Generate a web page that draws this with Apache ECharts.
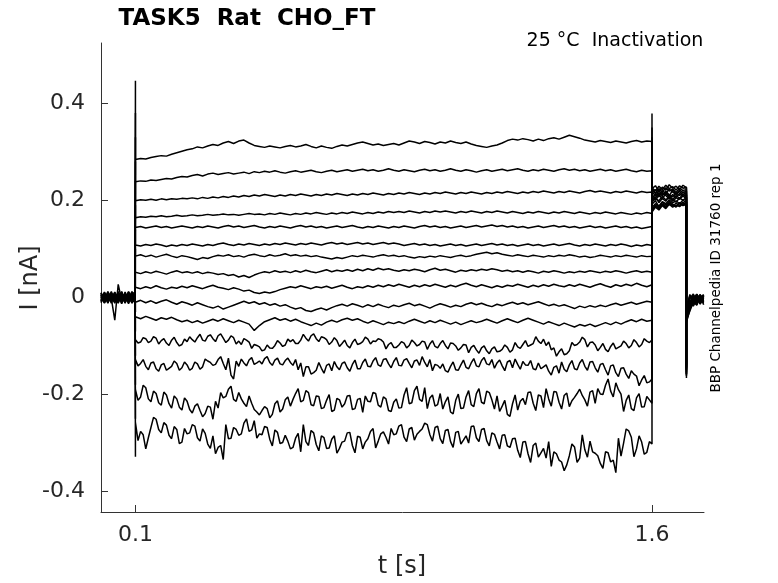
<!DOCTYPE html>
<html><head><meta charset="utf-8">
<script src="https://cdn.jsdelivr.net/npm/echarts@6/dist/echarts.min.js"></script>
<style>html,body{margin:0;padding:0;background:#fff}#c{width:778px;height:583px}</style>
</head><body><div id="c"></div><script>
// ---- time grids (s) ----
const preTimes = [0, 0.01, 0.02, 0.03, 0.04, 0.05, 0.06, 0.07, 0.08, 0.09, 0.099];
const pulseStart = 0.1, pulseStep = 0.015, pulseCount = 101;
const postTimes = [1.6, 1.61, 1.62, 1.63, 1.64, 1.65, 1.66, 1.67, 1.68, 1.69, 1.70];
const tailTimes = [1.70, 1.71, 1.72, 1.73, 1.74, 1.75];

// ---- tick labels ----
const xTicks = [0.1, 1.6];
const yTicks = [-0.4, -0.2, 0, 0.2, 0.4];

// ---- capacitive spikes at the steps (nA) ----
const onSpike = [0.446, 0.38, 0.33, 0.28, 0.24, 0.19, 0.14, 0.10, 0.05, -0.03, -0.07, -0.12, -0.18, -0.25, -0.328];
const offSpike = [0.19, 0.21, 0.22, 0.225, 0.23, 0.235, 0.24, 0.25, 0.26, 0.27, 0.29, 0.31, 0.33, 0.35, 0.379];
const tailSpike = [-0.166, -0.150, -0.158, -0.142, -0.160, -0.147, -0.155, -0.139, -0.162, -0.145, -0.153, -0.136, -0.158, -0.149, -0.144];

// ---- holding current before the prepulse (nA) ----
const preCurrents = [
[0.003,-0.005,0.008,-0.002,-0.047,0.027,-0.006,0.004,-0.009,0.006,-0.003],
[-0.006,0.007,-0.003,0.010,-0.008,0.002,0.009,-0.005,0.006,-0.010,0.004],
[0.008,-0.009,0.005,-0.004,0.011,-0.007,0.003,-0.011,0.007,-0.002,0.009],
[-0.002,0.010,-0.008,0.006,-0.005,0.009,-0.012,0.005,-0.004,0.011,-0.007],
[0.005,-0.011,0.009,-0.006,0.004,-0.010,0.007,-0.003,0.010,-0.008,0.002],
[-0.009,0.004,-0.012,0.008,-0.001,0.006,-0.009,0.011,-0.006,0.003,-0.011],
[0.010,-0.003,0.006,-0.010,0.009,-0.004,0.012,-0.008,0.002,-0.012,0.006],
[-0.004,0.008,-0.010,0.003,-0.012,0.010,-0.002,0.007,-0.011,0.008,-0.005],
[0.006,-0.008,0.011,-0.009,0.007,-0.001,0.005,-0.012,0.009,-0.006,0.010],
[-0.011,0.002,-0.006,0.012,-0.010,0.005,-0.007,0.009,-0.003,0.012,-0.009],
[0.001,-0.012,0.004,-0.007,0.008,-0.011,0.010,-0.004,0.011,-0.009,0.003],
[0.009,-0.006,0.012,-0.001,-0.009,0.007,-0.013,0.006,-0.007,0.004,-0.008],
[-0.007,0.011,-0.004,0.009,-0.006,0.012,-0.005,0.003,-0.013,0.007,0.011],
[0.004,-0.010,0.007,-0.012,0.010,-0.008,0.008,-0.010,0.004,-0.011,-0.004],
[-0.008,0.006,-0.011,0.005,0.002,-0.012,0.011,-0.006,0.012,-0.004,0.008]
];

// ---- prepulse currents, one sweep each (nA) ----
const s1 = [0.284,0.286,0.285,0.288,0.290,0.292,0.291,0.295,0.298,0.301,0.304,
0.306,0.310,0.308,0.312,0.315,0.313,0.318,0.321,0.317,0.322,
0.324,0.318,0.313,0.311,0.309,0.312,0.310,0.308,0.311,0.313,
0.310,0.312,0.315,0.311,0.308,0.312,0.309,0.307,0.311,0.314,
0.312,0.315,0.318,0.320,0.317,0.314,0.316,0.313,0.315,0.317,
0.314,0.318,0.322,0.320,0.317,0.321,0.319,0.316,0.320,0.318,
0.322,0.319,0.317,0.320,0.316,0.313,0.311,0.309,0.312,0.314,
0.318,0.323,0.326,0.324,0.327,0.325,0.322,0.326,0.323,0.327,
0.329,0.326,0.330,0.334,0.331,0.328,0.324,0.322,0.320,0.323,
0.321,0.319,0.322,0.320,0.318,0.321,0.323,0.320,0.322,0.321];
const s2 = [0.238,0.240,0.239,0.242,0.241,0.243,0.245,0.244,0.247,0.249,0.248,
0.251,0.253,0.250,0.254,0.256,0.253,0.255,0.257,0.254,0.256,
0.258,0.255,0.259,0.257,0.260,0.258,0.261,0.258,0.256,0.259,
0.261,0.258,0.260,0.262,0.259,0.257,0.260,0.262,0.259,0.261,
0.263,0.260,0.262,0.264,0.261,0.263,0.260,0.262,0.265,0.262,
0.260,0.263,0.261,0.259,0.262,0.264,0.261,0.263,0.260,0.262,
0.265,0.262,0.260,0.263,0.261,0.258,0.261,0.263,0.260,0.262,
0.264,0.261,0.263,0.265,0.262,0.260,0.263,0.261,0.264,0.262,
0.260,0.263,0.265,0.262,0.264,0.261,0.263,0.260,0.262,0.264,
0.261,0.263,0.260,0.262,0.264,0.261,0.259,0.262,0.260,0.261];
const s3 = [0.199,0.201,0.200,0.202,0.200,0.203,0.201,0.203,0.202,0.204,0.203,
0.205,0.203,0.206,0.204,0.207,0.205,0.208,0.206,0.209,0.207,
0.210,0.208,0.211,0.209,0.212,0.210,0.208,0.211,0.209,0.212,
0.210,0.213,0.211,0.209,0.212,0.210,0.213,0.211,0.214,0.212,
0.210,0.213,0.211,0.214,0.212,0.215,0.213,0.211,0.214,0.212,
0.215,0.213,0.216,0.214,0.212,0.215,0.213,0.216,0.214,0.217,
0.215,0.213,0.216,0.214,0.217,0.215,0.213,0.216,0.214,0.217,
0.215,0.218,0.216,0.214,0.217,0.215,0.218,0.216,0.219,0.217,
0.215,0.218,0.216,0.219,0.217,0.215,0.218,0.220,0.217,0.219,
0.217,0.215,0.218,0.216,0.219,0.217,0.215,0.218,0.216,0.217];
const s4 = [0.164,0.166,0.165,0.167,0.166,0.168,0.166,0.167,0.169,0.167,0.168,
0.170,0.168,0.169,0.171,0.169,0.170,0.172,0.170,0.171,0.169,
0.171,0.173,0.171,0.172,0.170,0.173,0.171,0.174,0.172,0.170,
0.173,0.171,0.174,0.172,0.175,0.173,0.171,0.174,0.172,0.175,
0.173,0.176,0.174,0.172,0.175,0.173,0.176,0.174,0.177,0.175,
0.177,0.175,0.178,0.176,0.174,0.177,0.175,0.178,0.176,0.178,
0.176,0.174,0.177,0.175,0.178,0.176,0.174,0.177,0.175,0.178,
0.176,0.174,0.177,0.175,0.173,0.176,0.174,0.177,0.175,0.173,
0.176,0.174,0.177,0.175,0.173,0.176,0.174,0.172,0.175,0.173,
0.176,0.174,0.172,0.175,0.173,0.171,0.174,0.172,0.175,0.173];
const s5 = [0.144,0.146,0.143,0.145,0.147,0.144,0.146,0.143,0.145,0.147,0.145,
0.143,0.146,0.144,0.147,0.145,0.143,0.146,0.148,0.145,0.147,
0.144,0.146,0.148,0.145,0.143,0.146,0.144,0.147,0.145,0.143,
0.146,0.148,0.145,0.147,0.144,0.146,0.143,0.145,0.147,0.144,
0.146,0.148,0.145,0.143,0.146,0.144,0.147,0.145,0.143,0.146,
0.144,0.147,0.145,0.143,0.146,0.148,0.145,0.147,0.144,0.146,
0.143,0.145,0.147,0.144,0.146,0.148,0.145,0.147,0.149,0.146,
0.148,0.145,0.147,0.144,0.146,0.143,0.145,0.147,0.144,0.146,
0.148,0.145,0.147,0.144,0.146,0.143,0.145,0.147,0.144,0.146,
0.143,0.145,0.147,0.144,0.146,0.143,0.145,0.142,0.144,0.146];
const s6 = [0.108,0.106,0.109,0.107,0.110,0.108,0.105,0.108,0.106,0.109,0.107,
0.110,0.108,0.106,0.109,0.107,0.110,0.112,0.109,0.107,0.110,
0.108,0.111,0.109,0.107,0.110,0.108,0.111,0.109,0.112,0.110,
0.108,0.111,0.109,0.112,0.110,0.108,0.111,0.113,0.110,0.112,
0.109,0.111,0.113,0.110,0.112,0.109,0.111,0.113,0.110,0.112,
0.110,0.107,0.109,0.111,0.108,0.110,0.107,0.109,0.106,0.108,
0.110,0.107,0.109,0.106,0.108,0.110,0.107,0.109,0.111,0.108,
0.110,0.107,0.109,0.106,0.108,0.110,0.107,0.109,0.106,0.108,
0.110,0.107,0.109,0.111,0.108,0.106,0.109,0.107,0.110,0.108,
0.106,0.109,0.107,0.110,0.108,0.105,0.108,0.106,0.109,0.107];
const s7 = [0.085,0.088,0.084,0.087,0.083,0.086,0.089,0.085,0.082,0.086,0.084,
0.081,0.078,0.082,0.080,0.084,0.087,0.085,0.088,0.084,0.086,
0.083,0.087,0.089,0.086,0.084,0.088,0.085,0.087,0.090,0.086,
0.088,0.085,0.087,0.084,0.086,0.083,0.081,0.079,0.082,0.080,
0.083,0.086,0.084,0.087,0.085,0.083,0.086,0.088,0.085,0.087,
0.084,0.086,0.083,0.081,0.084,0.082,0.085,0.083,0.086,0.084,
0.082,0.085,0.087,0.084,0.086,0.089,0.091,0.093,0.090,0.092,
0.089,0.087,0.085,0.088,0.086,0.084,0.087,0.085,0.083,0.086,
0.084,0.087,0.085,0.088,0.086,0.083,0.085,0.082,0.084,0.087,
0.085,0.083,0.086,0.084,0.087,0.085,0.083,0.086,0.084,0.085];
const s8 = [0.052,0.049,0.053,0.050,0.054,0.051,0.048,0.052,0.055,0.051,0.053,
0.050,0.053,0.049,0.052,0.050,0.047,0.049,0.045,0.047,0.042,
0.045,0.041,0.046,0.050,0.053,0.051,0.055,0.052,0.054,0.051,
0.055,0.052,0.056,0.053,0.051,0.054,0.057,0.053,0.056,0.054,
0.057,0.054,0.058,0.055,0.059,0.056,0.060,0.057,0.059,0.056,
0.054,0.057,0.055,0.058,0.056,0.053,0.057,0.060,0.056,0.058,
0.055,0.052,0.056,0.054,0.057,0.055,0.058,0.056,0.059,0.057,
0.054,0.056,0.053,0.055,0.052,0.055,0.053,0.050,0.054,0.052,
0.055,0.053,0.050,0.053,0.051,0.054,0.052,0.055,0.053,0.051,
0.054,0.052,0.055,0.053,0.050,0.053,0.055,0.052,0.054,0.052];
const s9 = [0.021,0.018,0.022,0.019,0.024,0.020,0.017,0.021,0.019,0.023,0.020,
0.024,0.021,0.018,0.022,0.025,0.021,0.019,0.016,0.020,0.017,
0.013,0.015,0.010,0.008,0.011,0.009,0.012,0.016,0.019,0.022,
0.020,0.024,0.021,0.018,0.022,0.020,0.023,0.019,0.022,0.025,
0.021,0.018,0.022,0.020,0.024,0.021,0.025,0.022,0.026,0.023,
0.027,0.024,0.021,0.025,0.022,0.026,0.023,0.027,0.024,0.021,
0.025,0.022,0.026,0.029,0.025,0.022,0.026,0.023,0.020,0.024,
0.021,0.025,0.023,0.027,0.024,0.021,0.025,0.022,0.026,0.023,
0.027,0.024,0.022,0.026,0.023,0.027,0.024,0.021,0.025,0.028,
0.024,0.021,0.026,0.023,0.027,0.024,0.029,0.025,0.022,0.026];
const s10 = [-0.010,-0.006,-0.011,-0.007,-0.012,-0.008,-0.005,-0.010,-0.014,-0.009,-0.012,
-0.016,-0.011,-0.015,-0.019,-0.022,-0.018,-0.024,-0.020,-0.016,-0.012,
-0.008,-0.012,-0.009,-0.014,-0.011,-0.016,-0.013,-0.018,-0.015,-0.020,
-0.024,-0.021,-0.027,-0.029,-0.025,-0.022,-0.026,-0.021,-0.017,-0.014,
-0.018,-0.013,-0.016,-0.020,-0.015,-0.019,-0.014,-0.018,-0.021,-0.016,
-0.019,-0.015,-0.012,-0.017,-0.014,-0.018,-0.022,-0.017,-0.013,-0.016,
-0.020,-0.016,-0.019,-0.014,-0.011,-0.015,-0.012,-0.016,-0.019,-0.014,
-0.017,-0.013,-0.010,-0.014,-0.011,-0.015,-0.012,-0.009,-0.013,-0.017,
-0.014,-0.018,-0.015,-0.019,-0.023,-0.018,-0.021,-0.017,-0.020,-0.016,
-0.019,-0.015,-0.012,-0.016,-0.013,-0.010,-0.014,-0.011,-0.008,-0.010];
const s11 = [-0.040,-0.044,-0.039,-0.043,-0.047,-0.042,-0.045,-0.041,-0.046,-0.050,-0.047,
-0.052,-0.048,-0.053,-0.049,-0.045,-0.049,-0.044,-0.048,-0.052,-0.047,
-0.051,-0.055,-0.068,-0.058,-0.050,-0.046,-0.042,-0.047,-0.044,-0.049,
-0.045,-0.050,-0.054,-0.058,-0.053,-0.057,-0.051,-0.047,-0.051,-0.046,
-0.043,-0.047,-0.044,-0.049,-0.053,-0.048,-0.052,-0.056,-0.051,-0.054,
-0.050,-0.054,-0.049,-0.045,-0.049,-0.053,-0.048,-0.052,-0.047,-0.051,
-0.055,-0.051,-0.056,-0.052,-0.048,-0.052,-0.049,-0.045,-0.049,-0.053,
-0.048,-0.044,-0.048,-0.052,-0.047,-0.043,-0.047,-0.051,-0.055,-0.050,
-0.054,-0.058,-0.053,-0.057,-0.061,-0.056,-0.059,-0.055,-0.060,-0.056,
-0.052,-0.056,-0.051,-0.055,-0.050,-0.046,-0.050,-0.045,-0.049,-0.047];
const s12 = [-0.087,-0.092,-0.085,-0.090,-0.084,-0.089,-0.094,-0.088,-0.093,-0.097,-0.091,
-0.087,-0.083,-0.088,-0.080,-0.085,-0.079,-0.084,-0.088,-0.083,-0.090,
-0.085,-0.092,-0.097,-0.102,-0.108,-0.104,-0.099,-0.094,-0.098,-0.091,
-0.095,-0.088,-0.084,-0.079,-0.085,-0.081,-0.087,-0.092,-0.089,-0.095,
-0.099,-0.093,-0.097,-0.091,-0.086,-0.090,-0.085,-0.092,-0.097,-0.103,
-0.098,-0.094,-0.099,-0.093,-0.097,-0.092,-0.096,-0.101,-0.095,-0.099,
-0.094,-0.100,-0.104,-0.098,-0.103,-0.108,-0.104,-0.110,-0.106,-0.112,
-0.107,-0.103,-0.108,-0.102,-0.097,-0.101,-0.095,-0.090,-0.086,-0.092,
-0.104,-0.112,-0.118,-0.110,-0.099,-0.092,-0.087,-0.093,-0.098,-0.103,
-0.107,-0.101,-0.106,-0.100,-0.095,-0.099,-0.093,-0.097,-0.090,-0.088];
const s13 = [-0.128,-0.136,-0.142,-0.135,-0.147,-0.139,-0.150,-0.142,-0.136,-0.145,-0.139,
-0.146,-0.137,-0.143,-0.131,-0.140,-0.128,-0.136,-0.125,-0.168,-0.142,
-0.135,-0.129,-0.138,-0.131,-0.126,-0.134,-0.129,-0.137,-0.130,-0.134,
-0.128,-0.135,-0.143,-0.158,-0.150,-0.146,-0.140,-0.151,-0.143,-0.136,
-0.145,-0.138,-0.147,-0.134,-0.142,-0.131,-0.139,-0.128,-0.137,-0.132,
-0.140,-0.129,-0.136,-0.131,-0.140,-0.134,-0.128,-0.138,-0.146,-0.151,
-0.142,-0.149,-0.139,-0.144,-0.135,-0.141,-0.130,-0.137,-0.128,-0.135,
-0.141,-0.133,-0.145,-0.138,-0.132,-0.140,-0.147,-0.135,-0.143,-0.152,
-0.144,-0.156,-0.148,-0.139,-0.147,-0.135,-0.142,-0.133,-0.145,-0.138,
-0.149,-0.141,-0.155,-0.146,-0.158,-0.151,-0.162,-0.170,-0.176,-0.168];
const s14 = [-0.190,-0.205,-0.186,-0.215,-0.198,-0.222,-0.201,-0.228,-0.209,-0.232,-0.214,
-0.238,-0.219,-0.246,-0.224,-0.251,-0.228,-0.207,-0.189,-0.210,-0.196,
-0.218,-0.203,-0.231,-0.242,-0.225,-0.248,-0.219,-0.236,-0.211,-0.224,
-0.198,-0.215,-0.192,-0.221,-0.203,-0.229,-0.212,-0.235,-0.208,-0.226,
-0.203,-0.231,-0.210,-0.237,-0.214,-0.196,-0.222,-0.205,-0.233,-0.216,
-0.228,-0.201,-0.219,-0.192,-0.210,-0.186,-0.207,-0.224,-0.198,-0.215,
-0.236,-0.212,-0.229,-0.205,-0.221,-0.198,-0.216,-0.193,-0.211,-0.203,
-0.224,-0.241,-0.219,-0.232,-0.208,-0.196,-0.218,-0.201,-0.227,-0.209,
-0.194,-0.216,-0.202,-0.225,-0.206,-0.189,-0.211,-0.195,-0.218,-0.199,
-0.181,-0.193,-0.176,-0.199,-0.212,-0.229,-0.207,-0.226,-0.204,-0.218];
const s15 = [-0.258,-0.276,-0.312,-0.268,-0.251,-0.279,-0.263,-0.291,-0.272,-0.298,-0.281,
-0.262,-0.289,-0.271,-0.302,-0.285,-0.309,-0.334,-0.291,-0.268,-0.284,
-0.259,-0.276,-0.254,-0.281,-0.266,-0.292,-0.273,-0.301,-0.284,-0.312,
-0.290,-0.318,-0.297,-0.274,-0.303,-0.285,-0.311,-0.292,-0.321,-0.298,
-0.279,-0.305,-0.286,-0.312,-0.291,-0.270,-0.296,-0.277,-0.302,-0.283,
-0.265,-0.288,-0.271,-0.294,-0.276,-0.259,-0.283,-0.268,-0.291,-0.274,
-0.297,-0.278,-0.302,-0.285,-0.266,-0.289,-0.272,-0.295,-0.279,-0.298,
-0.284,-0.306,-0.291,-0.315,-0.298,-0.322,-0.305,-0.329,-0.311,-0.297,
-0.318,-0.335,-0.357,-0.326,-0.308,-0.331,-0.314,-0.296,-0.321,-0.342,
-0.318,-0.339,-0.361,-0.327,-0.271,-0.288,-0.312,-0.298,-0.319,-0.302];
const pulseSweeps = [s1, s2, s3, s4, s5, s6, s7, s8, s9, s10, s11, s12, s13, s14, s15];

// ---- extra half-step samples for the noisiest sweeps (nA) ----
const s12mid = [-0.094,-0.083,-0.093,-0.081,-0.096,-0.085,-0.099,-0.082,-0.100,-0.086,
-0.081,-0.092,-0.076,-0.090,-0.077,-0.091,-0.075,-0.093,-0.079,-0.096,
-0.097,-0.088,-0.105,-0.099,-0.110,-0.098,-0.105,-0.089,-0.101,-0.086,
-0.087,-0.095,-0.076,-0.090,-0.075,-0.091,-0.083,-0.097,-0.083,-0.101,
-0.088,-0.104,-0.086,-0.095,-0.082,-0.096,-0.091,-0.087,-0.106,-0.093,
-0.103,-0.091,-0.104,-0.088,-0.100,-0.090,-0.107,-0.089,-0.104,-0.089,
-0.106,-0.095,-0.109,-0.097,-0.114,-0.099,-0.115,-0.100,-0.116,-0.102,
-0.111,-0.098,-0.113,-0.093,-0.105,-0.089,-0.098,-0.081,-0.095,-0.099,
-0.108,-0.121,-0.106,-0.116,-0.093,-0.097,-0.082,-0.102,-0.092,-0.110,
-0.095,-0.112,-0.094,-0.103,-0.090,-0.104,-0.087,-0.102,-0.085,-0.093];
const s13mid = [-0.141,-0.128,-0.149,-0.133,-0.152,-0.136,-0.146,-0.131,-0.150,-0.133,
-0.150,-0.133,-0.148,-0.127,-0.134,-0.138,-0.122,-0.149,-0.160,-0.131,
-0.127,-0.141,-0.124,-0.135,-0.137,-0.122,-0.140,-0.125,-0.139,-0.125,
-0.140,-0.149,-0.163,-0.143,-0.155,-0.134,-0.156,-0.137,-0.132,-0.149,
-0.133,-0.152,-0.129,-0.147,-0.127,-0.143,-0.124,-0.142,-0.126,-0.145,
-0.124,-0.141,-0.126,-0.145,-0.129,-0.122,-0.143,-0.151,-0.140,-0.137,
-0.154,-0.133,-0.150,-0.129,-0.147,-0.126,-0.143,-0.124,-0.139,-0.146,
-0.129,-0.151,-0.130,-0.127,-0.148,-0.139,-0.130,-0.149,-0.147,-0.139,
-0.160,-0.141,-0.133,-0.153,-0.130,-0.149,-0.128,-0.150,-0.132,-0.154,
-0.136,-0.160,-0.139,-0.163,-0.145,-0.167,-0.158,-0.182,-0.161,-0.174];
const s14mid = [-0.212,-0.181,-0.209,-0.193,-0.217,-0.195,-0.219,-0.203,-0.226,-0.207,
-0.231,-0.224,-0.233,-0.239,-0.226,-0.214,-0.196,-0.204,-0.183,-0.214,
-0.209,-0.225,-0.218,-0.236,-0.233,-0.229,-0.241,-0.213,-0.230,-0.205,
-0.210,-0.188,-0.212,-0.196,-0.223,-0.204,-0.227,-0.200,-0.232,-0.211,
-0.219,-0.202,-0.229,-0.208,-0.203,-0.215,-0.198,-0.226,-0.209,-0.235,
-0.209,-0.227,-0.186,-0.217,-0.183,-0.214,-0.229,-0.201,-0.221,-0.230,
-0.205,-0.240,-0.199,-0.228,-0.192,-0.225,-0.188,-0.219,-0.196,-0.230,
-0.235,-0.212,-0.245,-0.201,-0.214,-0.221,-0.195,-0.233,-0.203,-0.188,
-0.224,-0.195,-0.230,-0.197,-0.213,-0.198,-0.202,-0.224,-0.192,-0.188,
-0.200,-0.168,-0.205,-0.190,-0.235,-0.201,-0.233,-0.198,-0.225,-0.211];
const s15mid = [-0.295,-0.283,-0.289,-0.247,-0.272,-0.258,-0.284,-0.266,-0.301,-0.270,
-0.279,-0.265,-0.296,-0.280,-0.311,-0.322,-0.305,-0.262,-0.290,-0.272,
-0.281,-0.250,-0.273,-0.290,-0.283,-0.268,-0.306,-0.278,-0.299,-0.296,
-0.309,-0.280,-0.262,-0.305,-0.279,-0.316,-0.289,-0.310,-0.285,-0.311,
-0.296,-0.278,-0.320,-0.288,-0.298,-0.276,-0.310,-0.281,-0.288,-0.270,
-0.281,-0.262,-0.297,-0.268,-0.282,-0.271,-0.262,-0.296,-0.265,-0.301,
-0.272,-0.309,-0.276,-0.294,-0.300,-0.265,-0.297,-0.270,-0.306,-0.282,
-0.312,-0.283,-0.309,-0.290,-0.330,-0.297,-0.340,-0.300,-0.320,-0.331,
-0.348,-0.322,-0.339,-0.345,-0.302,-0.340,-0.283,-0.329,-0.318,-0.326,
-0.352,-0.320,-0.335,-0.290,-0.300,-0.275,-0.328,-0.285,-0.323,-0.297];
const midSweeps = { 11: s12mid, 12: s13mid, 13: s14mid, 14: s15mid };

// ---- test pulse currents (nA) ----
const postCurrents = [
[0.196,0.204,0.199,0.208,0.201,0.206,0.198,0.205,0.202,0.209,0.203],
[0.212,0.205,0.216,0.209,0.219,0.211,0.207,0.215,0.210,0.217,0.212],
[0.185,0.193,0.188,0.196,0.190,0.198,0.192,0.187,0.195,0.191,0.197],
[0.221,0.214,0.224,0.217,0.226,0.219,0.223,0.216,0.225,0.220,0.222],
[0.178,0.189,0.182,0.191,0.185,0.193,0.188,0.194,0.189,0.196,0.191],
[0.204,0.213,0.207,0.216,0.210,0.203,0.212,0.206,0.214,0.208,0.211],
[0.226,0.219,0.229,0.222,0.231,0.224,0.228,0.221,0.230,0.225,0.227],
[0.192,0.199,0.187,0.197,0.193,0.201,0.195,0.199,0.193,0.200,0.196],
[0.215,0.222,0.211,0.220,0.214,0.223,0.217,0.212,0.221,0.216,0.219],
[0.181,0.190,0.184,0.193,0.187,0.195,0.190,0.186,0.194,0.189,0.192],
[0.208,0.200,0.211,0.203,0.214,0.206,0.201,0.210,0.204,0.213,0.207],
[0.224,0.230,0.218,0.227,0.221,0.232,0.225,0.229,0.222,0.231,0.226],
[0.176,0.186,0.180,0.189,0.183,0.192,0.186,0.190,0.187,0.193,0.189],
[0.218,0.209,0.220,0.212,0.217,0.209,0.221,0.213,0.218,0.211,0.216],
[0.199,0.207,0.195,0.204,0.198,0.210,0.202,0.196,0.205,0.200,0.206]
];

// ---- return to holding (nA) ----
const tailCurrents = [
[-0.035,-0.012,0.002,-0.008,0.005,-0.004],
[-0.048,-0.020,-0.006,0.004,-0.010,0.003],
[-0.028,0.004,-0.014,0.006,-0.003,-0.012],
[-0.052,-0.025,-0.008,-0.016,0.002,-0.007],
[-0.020,-0.002,0.007,-0.011,-0.001,0.006],
[-0.041,-0.015,-0.004,0.003,-0.013,-0.002],
[-0.033,-0.009,0.005,-0.006,0.004,-0.015],
[-0.045,-0.022,-0.012,0.001,-0.008,0.005],
[-0.025,0.006,-0.007,-0.015,0.003,-0.005],
[-0.038,-0.017,-0.001,0.006,-0.009,0.001],
[-0.030,-0.006,-0.018,-0.004,0.006,-0.010],
[-0.047,-0.028,-0.010,-0.002,-0.014,0.004],
[-0.022,0.003,-0.009,0.007,-0.006,-0.001],
[-0.040,-0.014,0.002,-0.010,0.001,-0.008],
[-0.034,-0.019,-0.005,0.005,-0.012,0.002]
];

const pulseTimes = [];
for (let k = 0; k < pulseCount; k++) pulseTimes.push(+(pulseStart + k * pulseStep).toFixed(4));

const series = pulseSweeps.map((sw, i) => {
  const d = [];
  const mid = midSweeps[i];
  preTimes.forEach((t, j) => d.push([t, preCurrents[i][j]]));
  d.push([pulseStart, onSpike[i]]);
  sw.forEach((v, k) => {
    d.push([pulseTimes[k], v]);
    if (mid && k < mid.length) d.push([+(pulseTimes[k] + pulseStep / 2).toFixed(4), mid[k]]);
  });
  d.push([postTimes[0], offSpike[i]]);
  postCurrents[i].forEach((v, j) => d.push([postTimes[j], v]));
  d.push([tailTimes[0], tailSpike[i]]);
  tailCurrents[i].forEach((v, j) => d.push([tailTimes[j], v]));
  return {
    type: 'line', data: d, showSymbol: false, symbol: 'none', silent: true,
    lineStyle: { color: '#000', width: 1.5 }, sampling: null, animation: false
  };
});

const FONT = 'DejaVu Sans';
const chart = echarts.init(document.getElementById('c'), null, { renderer: 'canvas' });
chart.setOption({
  animation: false,
  backgroundColor: '#fff',
  grid: { left: 101, right: 74, top: 43, bottom: 71, outerBoundsMode: 'none', containLabel: false },
  xAxis: {
    type: 'value', min: 0, max: 1.751,
    axisLine: { onZero: false, lineStyle: { color: '#333', width: 1 } },
    axisTick: { inside: true, length: 7, customValues: xTicks, lineStyle: { color: '#333' } },
    axisLabel: { customValues: xTicks, margin: 12, fontSize: 22, color: '#262626', fontFamily: FONT },
    splitLine: { show: false }
  },
  yAxis: {
    type: 'value', min: -0.442, max: 0.524,
    axisLine: { show: true, onZero: false, lineStyle: { color: '#333', width: 1 } },
    axisTick: { show: true, inside: true, length: 7, customValues: yTicks, lineStyle: { color: '#333' } },
    axisLabel: { customValues: yTicks, margin: 16, fontSize: 22, color: '#262626', fontFamily: FONT },
    splitLine: { show: false }
  },
  graphic: [
    { type: 'text', x: 247, y: 19, silent: true,
      style: { text: 'TASK5  Rat  CHO_FT', fill: '#000', font: 'bold 23px "DejaVu Sans"', textAlign: 'center', textVerticalAlign: 'middle' } },
    { type: 'text', x: 615, y: 41, silent: true,
      style: { text: '25 °C  Inactivation', fill: '#000', font: '19px "DejaVu Sans"', textAlign: 'center', textVerticalAlign: 'middle' } },
    { type: 'text', x: 31, y: 278, rotation: Math.PI / 2, silent: true,
      style: { text: 'I [nA]', fill: '#262626', font: '24px "DejaVu Sans"', textAlign: 'center', textVerticalAlign: 'middle' } },
    { type: 'text', x: 402, y: 567, silent: true,
      style: { text: 't [s]', fill: '#262626', font: '24px "DejaVu Sans"', textAlign: 'center', textVerticalAlign: 'middle' } },
    { type: 'text', x: 716, y: 278, rotation: Math.PI / 2, silent: true,
      style: { text: 'BBP Channelpedia ID 31760 rep 1', fill: '#000', font: '13.5px "DejaVu Sans"', textAlign: 'center', textVerticalAlign: 'middle' } }
  ],
  series: series
});
</script></body></html>
